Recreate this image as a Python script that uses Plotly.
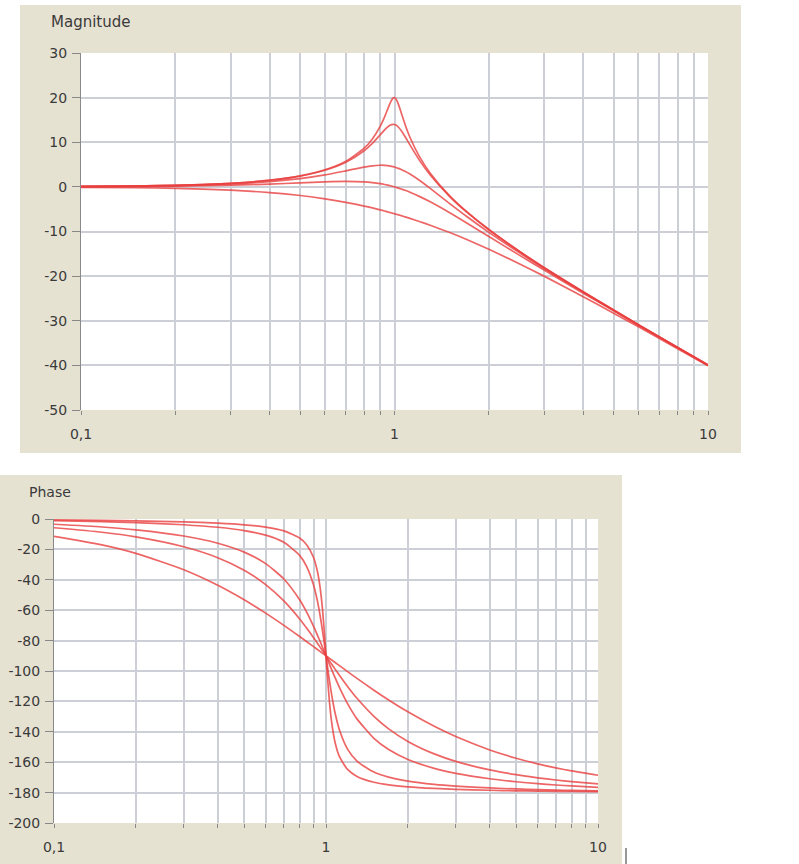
import plotly.graph_objects as go

# frequency points (rad/s) read along the log axis
freq = [0.1, 0.15, 0.2, 0.3, 0.4, 0.5, 0.6, 0.7, 0.8, 0.85, 0.9, 0.93, 0.95, 0.97, 0.99,
        1.0, 1.01, 1.03, 1.05, 1.08, 1.12, 1.2, 1.3, 1.5, 1.7, 2, 2.5, 3, 4, 5, 6, 7, 8, 10]

damping = ["0.05", "0.1", "0.3", "0.5", "1"]

# magnitude (dB), one list per damping ratio
mag_005 = [0.09, 0.20, 0.35, 0.81, 1.50, 2.48, 3.84, 5.77, 8.66, 10.75, 13.55, 15.70, 17.32, 18.89, 19.92,
           20.0, 19.75, 18.44, 16.67, 14.05, 11.12, 6.82, 3.07, -2.00, -5.56, -9.56, -14.41, -18.07, -23.52,
           -27.61, -30.88, -33.63, -35.99, -39.91]
mag_01 = [0.09, 0.19, 0.35, 0.80, 1.48, 2.42, 3.73, 5.53, 8.09, 9.75, 11.64, 12.77, 13.41, 13.86, 14.02,
          13.98, 13.85, 13.36, 12.63, 11.29, 9.40, 6.00, 2.65, -2.18, -5.67, -9.62, -14.44, -18.09, -23.53,
          -27.61, -30.89, -33.63, -35.99, -39.91]
mag_03 = [0.07, 0.16, 0.29, 0.65, 1.17, 1.85, 2.68, 3.60, 4.44, 4.72, 4.85, 4.82, 4.76, 4.66, 4.52,
          4.44, 4.35, 4.14, 3.90, 3.49, 2.87, 1.48, -0.35, -3.75, -6.64, -10.19, -14.74, -18.28, -23.63,
          -27.67, -30.93, -33.66, -36.01, -39.93]
mag_05 = [0.04, 0.10, 0.17, 0.37, 0.63, 0.90, 1.14, 1.25, 1.14, 0.97, 0.73, 0.54, 0.40, 0.25, 0.09,
          0.0, -0.09, -0.27, -0.46, -0.77, -1.20, -2.13, -3.36, -5.81, -8.10, -11.14, -15.29, -18.63, -23.82,
          -27.79, -31.01, -33.72, -36.06, -39.96]
mag_1 = [-0.09, -0.19, -0.34, -0.75, -1.29, -1.94, -2.67, -3.46, -4.30, -4.72, -5.15, -5.41, -5.59, -5.76, -5.93,
         -6.02, -6.11, -6.28, -6.45, -6.71, -7.06, -7.75, -8.60, -10.24, -11.80, -13.98, -17.21, -20.0, -24.61,
         -28.30, -31.36, -33.98, -36.26, -40.09]

# phase (deg)
ph_005 = [-0.58, -0.88, -1.19, -1.89, -2.73, -3.81, -5.36, -7.82, -12.53, -17.03, -25.35, -34.54, -44.26, -58.65, -78.63,
          -90.0, -101.26, -120.59, -134.31, -147.00, -156.24, -164.74, -169.33, -173.16, -174.86, -176.19, -177.27,
          -177.85, -178.47, -178.81, -179.02, -179.16, -179.27, -179.42]
ph_01 = [-1.16, -1.76, -2.39, -3.77, -5.44, -7.59, -10.62, -15.35, -23.96, -31.49, -43.45, -54.01, -62.83, -73.06, -84.26,
         -90.0, -95.68, -106.47, -116.02, -127.61, -138.64, -151.39, -159.35, -166.50, -169.80, -172.41, -174.56,
         -175.71, -176.95, -177.61, -178.04, -178.33, -178.55, -178.84]
ph_03 = [-3.47, -5.26, -7.13, -11.19, -15.95, -21.80, -29.36, -39.47, -53.13, -61.45, -70.62, -76.39, -80.29, -84.20, -88.08,
         -90.0, -91.90, -95.63, -99.24, -104.40, -110.73, -121.43, -131.50, -144.25, -151.64, -158.20, -164.05,
         -167.32, -170.91, -172.87, -174.13, -175.00, -175.64, -176.53]
ph_05 = [-5.77, -8.72, -11.77, -18.25, -25.46, -33.69, -43.15, -53.92, -65.77, -71.92, -78.08, -81.73, -84.14, -86.51, -88.85,
         -90.0, -91.14, -93.38, -95.58, -98.76, -102.80, -110.14, -117.96, -129.81, -138.03, -146.31, -154.54,
         -159.44, -165.07, -168.23, -170.27, -171.70, -172.76, -174.23]
ph_1 = [-11.42, -17.06, -22.62, -33.40, -43.60, -53.13, -61.93, -69.98, -77.32, -80.72, -83.97, -85.85, -87.06, -88.27, -89.43,
        -90.0, -90.57, -91.70, -92.79, -94.40, -96.47, -100.39, -104.86, -112.62, -119.07, -126.87, -136.40,
        -143.13, -151.93, -157.38, -161.08, -163.74, -165.75, -168.58]

mags = [mag_005, mag_01, mag_03, mag_05, mag_1]
phases = [ph_005, ph_01, ph_03, ph_05, ph_1]

# axis ticks
x_ticks = [0.1, 0.2, 0.3, 0.4, 0.5, 0.6, 0.7, 0.8, 0.9, 1, 2, 3, 4, 5, 6, 7, 8, 9, 10]
x_labels = ["0,1", "", "", "", "", "", "", "", "", "1", "", "", "", "", "", "", "", "", "10"]
mag_ticks = [30, 20, 10, 0, -10, -20, -30, -40, -50]
phase_ticks = [0, -20, -40, -60, -80, -100, -120, -140, -160, -180, -200]

W, H = 799, 864
def px(v):
    return v / W
def py(v):
    return 1 - v / H

line_col = "rgba(232,62,62,0.8)"
grid_col = "#cdcfd6"
beige = "#e6e2d2"
font = dict(family="DejaVu Sans", size=14, color="#3a3a3a")

fig = go.Figure()
for z, m in zip(damping, mags):
    fig.add_trace(go.Scatter(x=freq, y=m, mode="lines", name="ζ=" + z,
                             line=dict(color=line_col, width=1.7, shape="spline", smoothing=0.6),
                             xaxis="x", yaxis="y", showlegend=False))
for z, p in zip(damping, phases):
    fig.add_trace(go.Scatter(x=freq, y=p, mode="lines", name="ζ=" + z,
                             line=dict(color=line_col, width=1.7, shape="spline", smoothing=0.6),
                             xaxis="x2", yaxis="y2", showlegend=False))

xcommon = dict(type="log", range=[-1, 1], tickvals=x_ticks, ticktext=x_labels,
               showgrid=True, gridcolor=grid_col, gridwidth=1.5, zeroline=False,
               ticks="outside", ticklen=4, tickcolor="#888", showline=False,
               tickfont=font, ticklabelstandoff=7, automargin=False)
ycommon = dict(showgrid=True, gridcolor=grid_col, gridwidth=1.5, zeroline=False,
               ticks="outside", ticklen=8, tickcolor="#888", showline=True,
               linecolor="#8a8a8a", linewidth=1, tickfont=font, ticklabelstandoff=2,
               automargin=False)

fig.update_layout(
    width=W, height=H, margin=dict(l=0, r=0, t=0, b=0),
    paper_bgcolor="white", plot_bgcolor="rgba(0,0,0,0)",
    xaxis=dict(domain=[px(81), px(708)], anchor="y", **xcommon),
    yaxis=dict(domain=[py(410), py(53)], anchor="x", range=[-50, 30],
               tickvals=mag_ticks, ticktext=[str(v) for v in mag_ticks], **ycommon),
    xaxis2=dict(domain=[px(54), px(598)], anchor="y2", **xcommon),
    yaxis2=dict(domain=[py(823), py(519)], anchor="x2", range=[-200, 0],
                tickvals=phase_ticks, ticktext=[str(v) for v in phase_ticks], **ycommon),
    shapes=[
        dict(type="rect", xref="paper", yref="paper", x0=px(20), x1=px(741), y0=py(453), y1=py(5),
             fillcolor=beige, line_width=0, layer="below"),
        dict(type="rect", xref="paper", yref="paper", x0=px(0), x1=px(622), y0=py(864), y1=py(475),
             fillcolor=beige, line_width=0, layer="below"),
        dict(type="rect", xref="x domain", yref="y domain", x0=0, x1=1, y0=0, y1=1,
             fillcolor="white", line_width=0, layer="below"),
        dict(type="rect", xref="x2 domain", yref="y2 domain", x0=0, x1=1, y0=0, y1=1,
             fillcolor="white", line_width=0, layer="below"),
        dict(type="line", xref="paper", yref="paper", x0=px(626), x1=px(626), y0=py(864), y1=py(848),
             line=dict(color="#333", width=1)),
    ],
    annotations=[
        dict(text="Magnitude", xref="paper", yref="paper", x=px(49), y=py(22), xanchor="left",
             yanchor="middle", showarrow=False, font=dict(family="DejaVu Sans", size=15, color="#3a3a3a")),
        dict(text="Phase", xref="paper", yref="paper", x=px(27), y=py(492), xanchor="left",
             yanchor="middle", showarrow=False, font=dict(family="DejaVu Sans", size=14, color="#3a3a3a")),
    ],
)

# the page body has a default 8px margin; remove it so the figure sits at the window corner
fig.write_html("out.html", config={"displayModeBar": False},
               post_script="document.body.style.margin='0';")
